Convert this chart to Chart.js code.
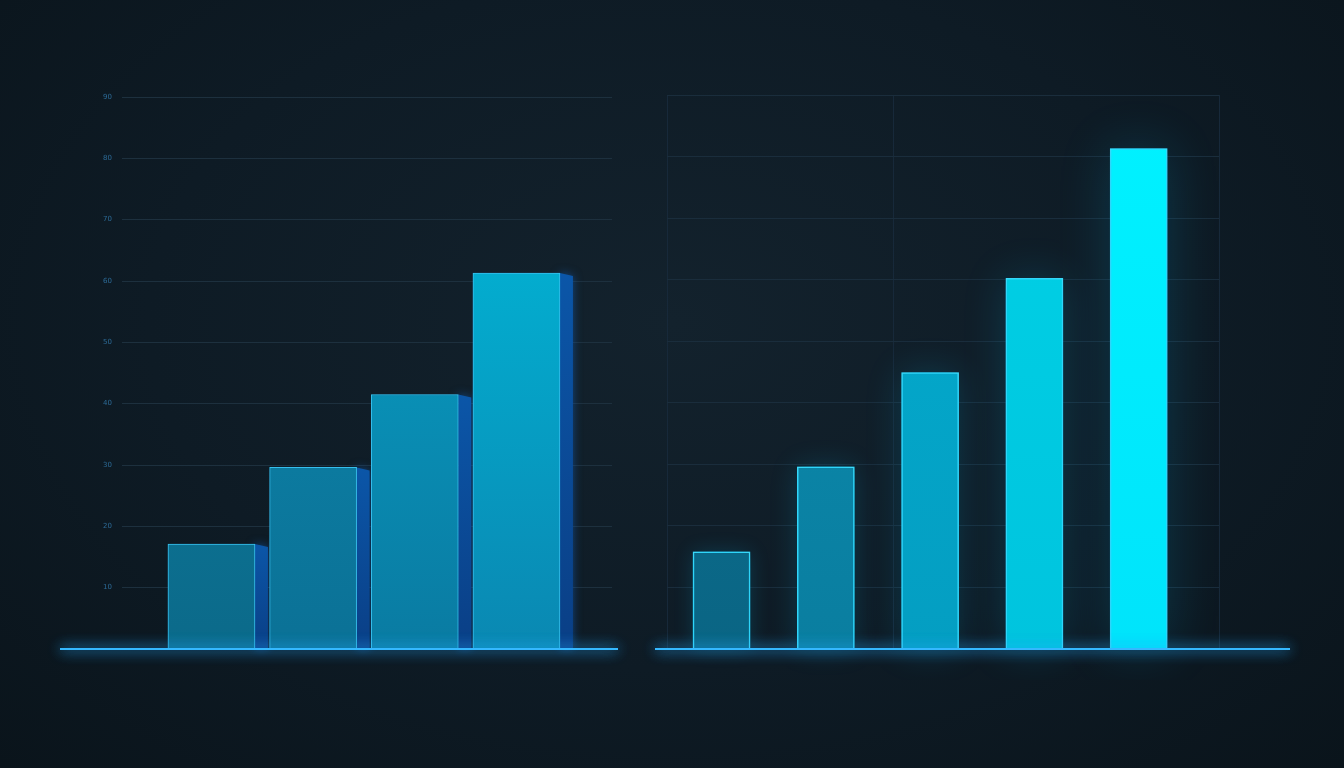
<!DOCTYPE html>
<html lang="en">
<head>
    <meta charset="UTF-8">
    <title>Glowing bars</title>
    <script src="https://cdn.jsdelivr.net/npm/chart.js@4.4.1/dist/chart.umd.min.js"></script>
</head>
<style>
    html, body {
        margin: 0;
        width: 1344px;
        height: 768px;
        overflow: hidden;
        background: radial-gradient(ellipse at 50% 42%, #13222d 0%, #0e1b25 55%, #0a141b 100%);
    }
    .box { position: absolute; }
    #left { left: 40px; top: 60px; width: 600px; height: 620px; }
    #right { left: 640px; top: 60px; width: 680px; height: 620px; }
</style>
<body>
    <div class="box" id="left"><canvas id="chartLeft"></canvas></div>
    <div class="box" id="right"><canvas id="chartRight"></canvas></div>
</body>
<script>
    // left chart (3D blocks)
    const leftPos = [1, 2, 3, 4];
    const leftValues = [17.1, 29.6, 41.5, 61.3];
    const leftTop = ['#0f82a4', '#0d8db2', '#07a6cb', '#00bddc'];
    const leftBottom = ['#0b6a8a', '#0b7196', '#0a7ba2', '#0a88b2'];

    // right chart (flat glowing bars)
    const rightPos = [1, 2, 3, 4, 5];
    const rightValues = [15.8, 29.6, 44.9, 60.2, 81.3];
    const rightTop = ['#0d7696', '#0b8eb0', '#03adcf', '#00d2e6', '#00f2ff'];
    const rightBottom = ['#0a6584', '#0a7ea0', '#049ec2', '#00c4de', '#00e4fb'];
    const rightXGrid = [0.477, 2.645, 5.77];

    // y axis shared by both: 0 - 90, step 10
    const yMax = 90;
    const yStep = 10;

    function points(xs, ys) {
        return xs.map((x, i) => ({ x: x, y: ys[i] }));
    }

    // vertical gradient per bar
    function barFill(tops, bottoms) {
        return function(context) {
            const chart = context.chart;
            const area = chart.chartArea;
            if (!area) return tops[context.dataIndex];
            const g = chart.ctx.createLinearGradient(0, area.top, 0, area.bottom);
            g.addColorStop(0, tops[context.dataIndex]);
            g.addColorStop(1, bottoms[context.dataIndex]);
            return g;
        };
    }

    // glow around bars + side faces + glowing baseline
    const glowPlugin = {
        id: 'glow',
        beforeDatasetsDraw(chart, args, opts) {
            const ctx = chart.ctx;
            const meta = chart.getDatasetMeta(0);
            // side faces for the 3D look
            if (opts.depth) {
                ctx.save();
                meta.data.forEach(bar => {
                    const x0 = bar.x + bar.width / 2;
                    const g = ctx.createLinearGradient(0, bar.y, 0, bar.base);
                    g.addColorStop(0, '#0b56a8');
                    g.addColorStop(1, '#0a3f86');
                    ctx.fillStyle = g;
                    ctx.shadowColor = 'rgba(20,110,220,0.5)';
                    ctx.shadowBlur = 10;
                    ctx.beginPath();
                    ctx.moveTo(x0, bar.y);
                    ctx.lineTo(x0 + opts.depth, bar.y + 3);
                    ctx.lineTo(x0 + opts.depth, bar.base);
                    ctx.lineTo(x0, bar.base);
                    ctx.closePath();
                    ctx.fill();
                });
                ctx.restore();
            }
            // extra soft halo behind each bar
            if (opts.halo) {
                ctx.save();
                meta.data.forEach((bar, i) => {
                    ctx.shadowColor = opts.glowColor;
                    ctx.shadowBlur = opts.halo * (0.5 + i / meta.data.length);
                    ctx.fillStyle = 'rgba(0,180,230,0.25)';
                    ctx.fillRect(bar.x - bar.width / 2, bar.y, bar.width, bar.base - bar.y);
                });
                ctx.restore();
            }
            ctx.save();
            ctx.shadowColor = opts.glowColor;
            ctx.shadowBlur = opts.glowBlur;
        },
        afterDatasetsDraw(chart, args, opts) {
            const ctx = chart.ctx;
            ctx.restore();
            const area = chart.chartArea;
            const y0 = chart.scales.y.getPixelForValue(0);
            ctx.save();
            ctx.strokeStyle = '#35b8ff';
            ctx.lineWidth = 2;
            ctx.shadowColor = 'rgba(40,170,255,1)';
            ctx.shadowBlur = 14;
            for (let k = 0; k < 2; k++) {
                ctx.beginPath();
                ctx.moveTo(area.left - opts.lineLeft, y0);
                ctx.lineTo(area.right + opts.lineRight, y0);
                ctx.stroke();
            }
            ctx.restore();
        }
    };

    Chart.register(glowPlugin);

    new Chart(document.getElementById('chartLeft'), {
        type: 'bar',
        data: {
            datasets: [{
                data: points(leftPos, leftValues),
                backgroundColor: barFill(leftTop, leftBottom),
                borderColor: '#3cc6ee',
                borderWidth: 1,
                barThickness: 87
            }]
        },
        options: {
            responsive: true,
            maintainAspectRatio: false,
            animation: false,
            layout: { padding: { left: 52, right: 28, top: 37, bottom: 31 } },
            plugins: {
                legend: { display: false },
                tooltip: { enabled: false },
                glow: { depth: 13, halo: 0, glowColor: 'rgba(20,150,230,0.35)', glowBlur: 8, lineLeft: 62, lineRight: 6 }
            },
            scales: {
                x: {
                    type: 'linear',
                    offset: false,
                    min: 0.12,
                    max: 4.94,
                    display: false
                },
                y: {
                    min: 0,
                    max: yMax,
                    border: { display: false },
                    afterFit: function(scale) { scale.width = 30; },
                    grid: { color: '#1d303e', lineWidth: 1, drawTicks: false },
                    ticks: {
                        stepSize: yStep,
                        padding: 10,
                        color: '#2c6a96',
                        font: { family: 'DejaVu Sans', size: 7 },
                        callback: function(value) { return value === 0 ? '' : value; }
                    }
                }
            }
        }
    });

    new Chart(document.getElementById('chartRight'), {
        type: 'bar',
        data: {
            datasets: [{
                data: points(rightPos, rightValues),
                backgroundColor: barFill(rightTop, rightBottom),
                borderColor: '#45dcf8',
                borderWidth: 1.5,
                barThickness: 57
            }]
        },
        options: {
            responsive: true,
            maintainAspectRatio: false,
            animation: false,
            layout: { padding: { left: 27, right: 101, top: 35, bottom: 31 } },
            plugins: {
                legend: { display: false },
                tooltip: { enabled: false },
                glow: { depth: 0, halo: 40, glowColor: 'rgba(0,200,255,0.7)', glowBlur: 14, lineLeft: 12, lineRight: 71 }
            },
            scales: {
                x: {
                    type: 'linear',
                    offset: false,
                    min: rightXGrid[0],
                    max: rightXGrid[rightXGrid.length - 1],
                    border: { display: false },
                    afterBuildTicks: function(scale) {
                        scale.ticks = rightXGrid.map(v => ({ value: v }));
                    },
                    grid: { offset: false, color: '#17293a', lineWidth: 1, drawTicks: false },
                    ticks: { display: false }
                },
                y: {
                    min: 0,
                    max: yMax,
                    border: { display: false },
                    afterFit: function(scale) { scale.width = 0; },
                    grid: { color: '#1a2d3c', lineWidth: 1, drawTicks: false },
                    ticks: { stepSize: yStep, display: false }
                }
            }
        }
    });
</script>
</html>
